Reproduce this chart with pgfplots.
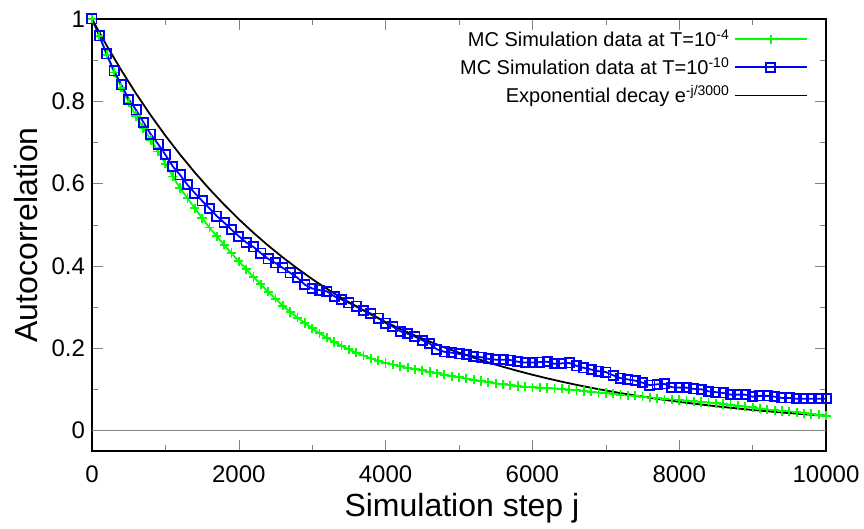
\documentclass[border=0pt]{standalone}
\usepackage{pgfplots}
\pgfplotsset{compat=1.18}
\usepackage{fontspec}
\setmainfont{Liberation Sans}

\definecolor{mcgreen}{rgb}{0,1,0}
\definecolor{mcblue}{rgb}{0,0,1}

\begin{document}
\begin{tikzpicture}
\begin{axis}[
scale only axis,
width=367pt, height=216pt,
xmin=0, xmax=10000,
ymin=-0.05, ymax=1,
xtick={0,2000,4000,6000,8000,10000},
minor xtick={1000,3000,5000,7000,9000},
ytick={0,0.2,0.4,0.6,0.8,1},
minor ytick={0.1,0.3,0.5,0.7,0.9},
tick align=inside,
major tick length=5.5pt,
minor tick length=3pt,
scaled x ticks=false,
/pgf/number format/assume math mode=true,
x tick label style={/pgf/number format/1000 sep={}, yshift=-4pt},
tick label style={font=\fontsize{12}{14}\selectfont},
axis line style={line width=0.8pt},
xlabel={Simulation step j},
ylabel={Autocorrelation},
label style={font=\fontsize{16}{18}\selectfont},
xlabel style={at={(axis description cs:0.504,-0.132)}, anchor=center},
ylabel style={at={(axis description cs:-0.09,0.5)}, anchor=center},
legend plot pos=right,
legend cell align=right,
legend style={draw=none, fill=none, at={(axis description cs:1,1)}, anchor=north east,
  xshift=-6pt, yshift=-1pt, font=\fontsize{10}{12}\selectfont, row sep=0pt},
legend image code/.code={\draw[mark repeat=2,mark phase=2,#1] plot coordinates {(0pt,0pt) (18pt,0pt) (36pt,0pt)};},
]
% zero axis
\addplot [gray, line width=0.6pt, forget plot] coordinates {(0,0) (10000,0)};

\addplot [mcgreen, line width=0.9pt, mark=+, mark size=2.3pt]
table {%
0 1.000
100 0.958
200 0.913
300 0.870
400 0.833
500 0.797
600 0.764
700 0.735
800 0.706
900 0.678
1000 0.648
1100 0.617
1200 0.589
1300 0.565
1400 0.540
1500 0.516
1600 0.493
1700 0.472
1800 0.451
1900 0.431
2000 0.411
2100 0.392
2200 0.373
2300 0.355
2400 0.337
2500 0.320
2600 0.303
2700 0.288
2800 0.274
2900 0.261
3000 0.248
3100 0.236
3200 0.225
3300 0.215
3400 0.206
3500 0.197
3600 0.189
3700 0.182
3800 0.175
3900 0.169
4000 0.164
4100 0.160
4200 0.156
4300 0.152
4400 0.149
4500 0.146
4600 0.142
4700 0.139
4800 0.135
4900 0.132
5000 0.129
5100 0.126
5200 0.123
5300 0.120
5400 0.117
5500 0.114
5600 0.112
5700 0.110
5800 0.108
5900 0.106
6000 0.105
6100 0.104
6200 0.103
6300 0.102
6400 0.101
6500 0.099
6600 0.098
6700 0.096
6800 0.094
6900 0.092
7000 0.091
7100 0.089
7200 0.087
7300 0.085
7400 0.084
7500 0.082
7600 0.080
7700 0.078
7800 0.076
7900 0.075
8000 0.074
8100 0.072
8200 0.071
8300 0.069
8400 0.068
8500 0.066
8600 0.064
8700 0.062
8800 0.060
8900 0.058
9000 0.056
9100 0.053
9200 0.051
9300 0.049
9400 0.047
9500 0.046
9600 0.044
9700 0.042
9800 0.040
9900 0.038
10000 0.036
};
\addlegendentry{MC Simulation data at T=10\textsuperscript{-4}}

\addplot [mcblue, line width=0.9pt, mark=square, mark size=2.3pt]
table {%
0 1.000
100 0.959
200 0.915
300 0.874
400 0.840
500 0.805
600 0.779
700 0.749
800 0.720
900 0.696
1000 0.670
1100 0.642
1200 0.621
1300 0.597
1400 0.577
1500 0.558
1600 0.540
1700 0.521
1800 0.505
1900 0.488
2000 0.472
2100 0.457
2200 0.446
2300 0.431
2400 0.417
2500 0.407
2600 0.395
2700 0.383
2800 0.371
2900 0.354
3000 0.345
3100 0.341
3200 0.338
3300 0.326
3400 0.318
3500 0.310
3600 0.302
3700 0.292
3800 0.284
3900 0.273
4000 0.261
4100 0.252
4200 0.241
4300 0.235
4400 0.228
4500 0.219
4600 0.211
4700 0.197
4800 0.191
4900 0.189
5000 0.186
5100 0.184
5200 0.180
5300 0.178
5400 0.174
5500 0.172
5600 0.172
5700 0.171
5800 0.167
5900 0.165
6000 0.165
6100 0.166
6200 0.167
6300 0.162
6400 0.163
6500 0.164
6600 0.157
6700 0.152
6800 0.148
6900 0.144
7000 0.142
7100 0.134
7200 0.127
7300 0.124
7400 0.121
7500 0.116
7600 0.110
7700 0.112
7800 0.113
7900 0.105
8000 0.104
8100 0.104
8200 0.101
8300 0.100
8400 0.095
8500 0.093
8600 0.091
8700 0.087
8800 0.087
8900 0.087
9000 0.082
9100 0.084
9200 0.084
9300 0.082
9400 0.079
9500 0.079
9600 0.077
9700 0.077
9800 0.077
9900 0.077
10000 0.077
};
\addlegendentry{MC Simulation data at T=10\textsuperscript{-10}}

\addplot [black, line width=0.9pt]
table {%
0 1.00000
200 0.93551
400 0.87517
600 0.81873
800 0.76593
1000 0.71653
1200 0.67032
1400 0.62708
1600 0.58665
1800 0.54881
2000 0.51342
2200 0.48031
2400 0.44933
2600 0.42035
2800 0.39324
3000 0.36788
3200 0.34415
3400 0.32196
3600 0.30119
3800 0.28177
4000 0.26360
4200 0.24660
4400 0.23069
4600 0.21582
4800 0.20190
5000 0.18888
5200 0.17669
5400 0.16530
5600 0.15464
5800 0.14467
6000 0.13534
6200 0.12661
6400 0.11845
6600 0.11080
6800 0.10366
7000 0.09697
7200 0.09072
7400 0.08487
7600 0.07939
7800 0.07427
8000 0.06948
8200 0.06500
8400 0.06081
8600 0.05689
8800 0.05322
9000 0.04979
9200 0.04658
9400 0.04357
9600 0.04076
9800 0.03813
10000 0.03567
};
\addlegendentry{Exponential decay e\textsuperscript{-j/3000}}
\end{axis}
\pgfresetboundingbox
\path ([xshift=-46pt,yshift=-39pt]current axis.south west) rectangle ([xshift=19pt,yshift=9.5pt]current axis.north east);
\end{tikzpicture}
\end{document}
